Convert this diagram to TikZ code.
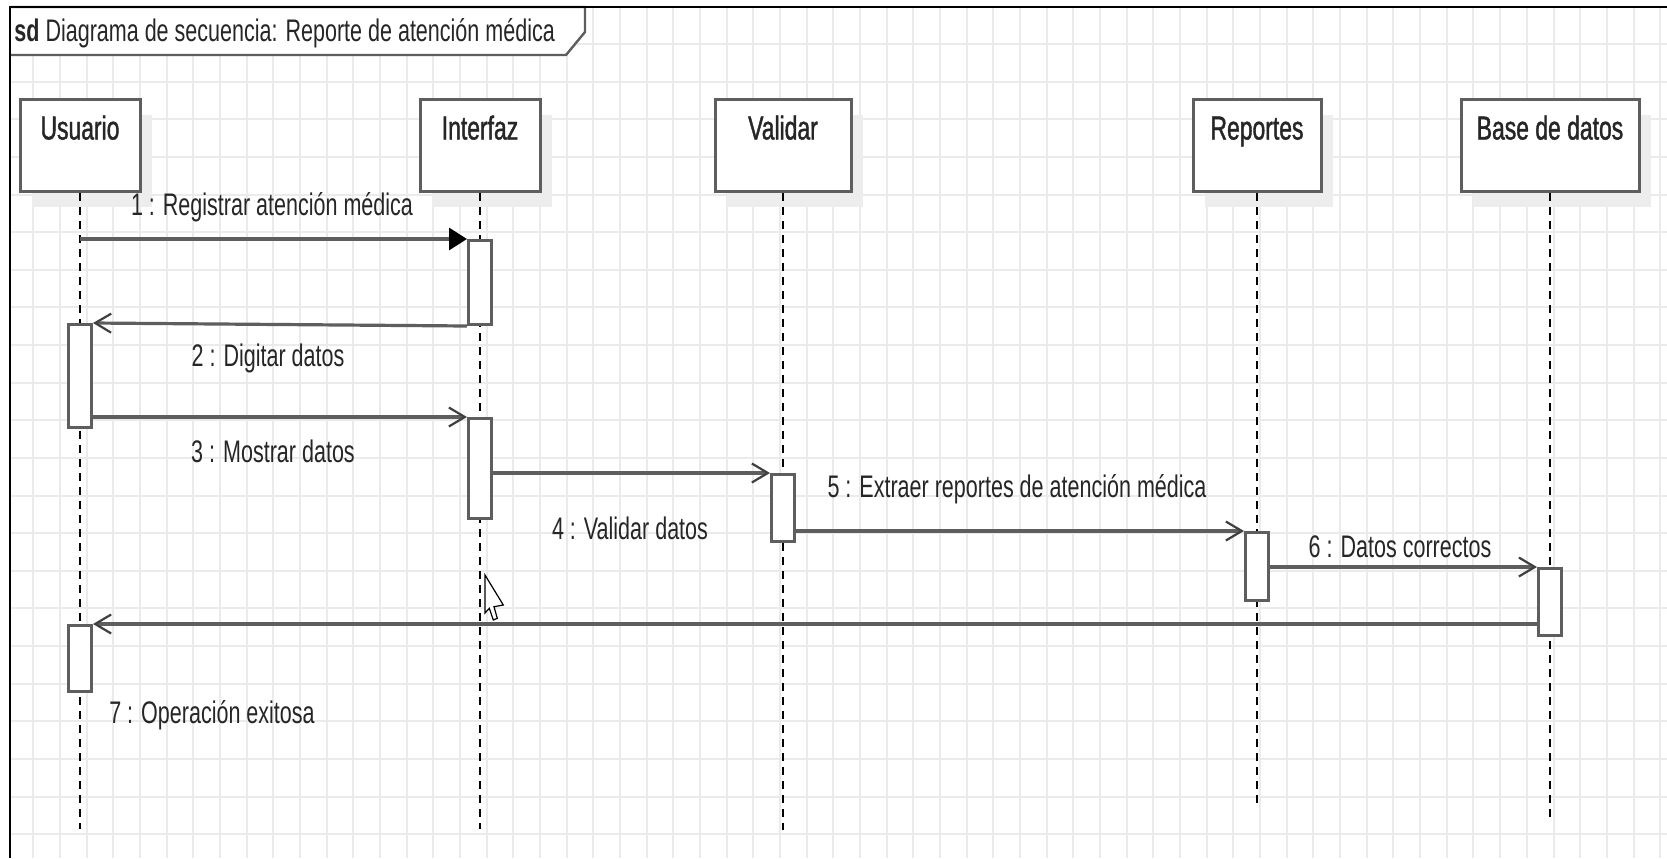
\documentclass[tikz,border=0pt]{standalone}
\usepackage{fontspec}
\setmainfont[FakeStretch=0.69]{Liberation Sans}
\newfontfamily\headfam[FakeStretch=0.69, FakeBold=1.2]{Liberation Sans}
\usetikzlibrary{positioning, arrows.meta, shadows}
\definecolor{umlgray}{HTML}{5E5E5E}
\definecolor{gridgray}{HTML}{EBEBEB}
\definecolor{inkdark}{HTML}{262626}
\newcommand{\lblfont}{\fontsize{15.6}{18}\selectfont}
\newcommand{\namefont}{\headfam\fontsize{16.6}{19}\selectfont}

\tikzset{
    lifehead/.style={draw=umlgray, line width=1.5pt, fill=white, anchor=north,
        minimum height=46pt, inner sep=0pt, text height=12pt, text depth=18pt,
        font=\namefont, text=inkdark,
        drop shadow={shadow xshift=6pt, shadow yshift=-7.5pt, fill=black!7, opacity=1}},
    lifeline/.style={black, line width=0.9pt, dash pattern=on 4pt off 3pt},
    actbox/.style={draw=umlgray, line width=1.5pt, fill=white, anchor=north,
        minimum width=11.5pt, inner sep=0pt},
    msgline/.style={draw=umlgray, line width=1.6pt,
        -{Straight Barb[length=8pt, width=9.5pt, line width=1.1pt, color=black!75]}},
    callline/.style={draw=umlgray, line width=1.6pt,
        -{Triangle[length=9pt, width=11pt, color=black]}},
    msglabel/.style={font=\lblfont, text=inkdark, inner sep=0pt},
    gridline/.style={gridgray, line width=1pt},
}

\begin{document}
\begin{tikzpicture}[x=0.5pt, y=-0.5pt]
    \path[use as bounding box, fill=white] (0,0) rectangle (1667,858);

    % grid
    \foreach \gx in {0,...,61}
        \draw[gridline] ({33.3+26.67*\gx},7) -- ({33.3+26.67*\gx},858);
    \foreach \gy in {0,...,21}
        \draw[gridline] (10,{44+37.63*\gy}) -- (1667,{44+37.63*\gy});

    % frame and tab
    \draw[draw=umlgray, line width=1.2pt, fill=white] (10,7) -- (585,7) -- (585,32) -- (566,55) -- (10,55);
    \draw[black, line width=1pt] (10,858) -- (10,7) -- (1667,7);
    \node[msglabel, anchor=west] (title) at (14,33) {\textbf{sd} Diagrama de secuencia: Reporte de atención médica};

    % lifelines
    \node[lifehead, minimum width=60pt] (usuario) at (80,98) {Usuario};
    \node[lifehead, minimum width=60pt] (interfaz) at (480,98) {Interfaz};
    \node[lifehead, minimum width=68pt] (validar) at (783,98) {Validar};
    \node[lifehead, minimum width=64pt] (reportes) at (1257,98) {Reportes};
    \node[lifehead, minimum width=89pt] (basedatos) at (1550,98) {Base de datos};

    \coordinate (usuarioEnd) at (80,829);
    \coordinate (interfazEnd) at (480,829);
    \coordinate (validarEnd) at (783,830);
    \coordinate (reportesEnd) at (1257,805);
    \coordinate (basedatosEnd) at (1550,817);

    \draw[lifeline] (usuario.south) -- (usuarioEnd);
    \draw[lifeline] (interfaz.south) -- (interfazEnd);
    \draw[lifeline] (validar.south) -- (validarEnd);
    \draw[lifeline] (reportes.south) -- (reportesEnd);
    \draw[lifeline] (basedatos.south) -- (basedatosEnd);

    % activations
    \node[actbox, minimum height=42pt] (actI1) at (480,239) {};
    \node[actbox, minimum height=51.5pt] (actU1) at (80,323) {};
    \node[actbox, minimum height=50pt] (actI2) at (480,417) {};
    \node[actbox, minimum height=33.5pt] (actV) at (783,473) {};
    \node[actbox, minimum height=34pt] (actR) at (1257,531) {};
    \node[actbox, minimum height=33.5pt] (actB) at (1550,567) {};
    \node[actbox, minimum height=33pt] (actU2) at (80,624) {};

    % messages
    \coordinate (m1start) at (usuario.south |- actI1.north);
    \draw[callline] (m1start) -- (actI1.north west);
    \draw[msgline] (actI1.south west) -- (actU1.north east);
    \draw[msgline] (actU1.east |- actI2.north) -- (actI2.north west);
    \draw[msgline] (actI2.east |- actV.north) -- (actV.north west);
    \draw[msgline] (actV.east |- actR.north) -- (actR.north west);
    \draw[msgline] (actR.east |- actB.north) -- (actB.north west);
    \draw[msgline] (actB.west |- actU2.north) -- (actU2.north east);

    \node[msglabel] (lbl1) at (272,207) {1 : Registrar atención médica};
    \node[msglabel] (lbl2) at (268,358) {2 : Digitar datos};
    \node[msglabel] (lbl3) at (273,451) {3 : Mostrar datos};
    \node[msglabel] (lbl4) at (630,528) {4 : Validar datos};
    \node[msglabel] (lbl5) at (1017,489) {5 : Extraer reportes de atención médica};
    \node[msglabel] (lbl6) at (1400,547) {6 : Datos correctos};
    \node[msglabel] (lbl7) at (212,715) {7 : Operación exitosa};

    % pointer
    \draw[black, line width=0.6pt, fill=white] (485,575) -- (485,613) -- (489.3,608.3) -- (493.3,620) -- (497.3,618.3) -- (494,606.7) -- (503.3,605) -- cycle;
\end{tikzpicture}
\end{document}
